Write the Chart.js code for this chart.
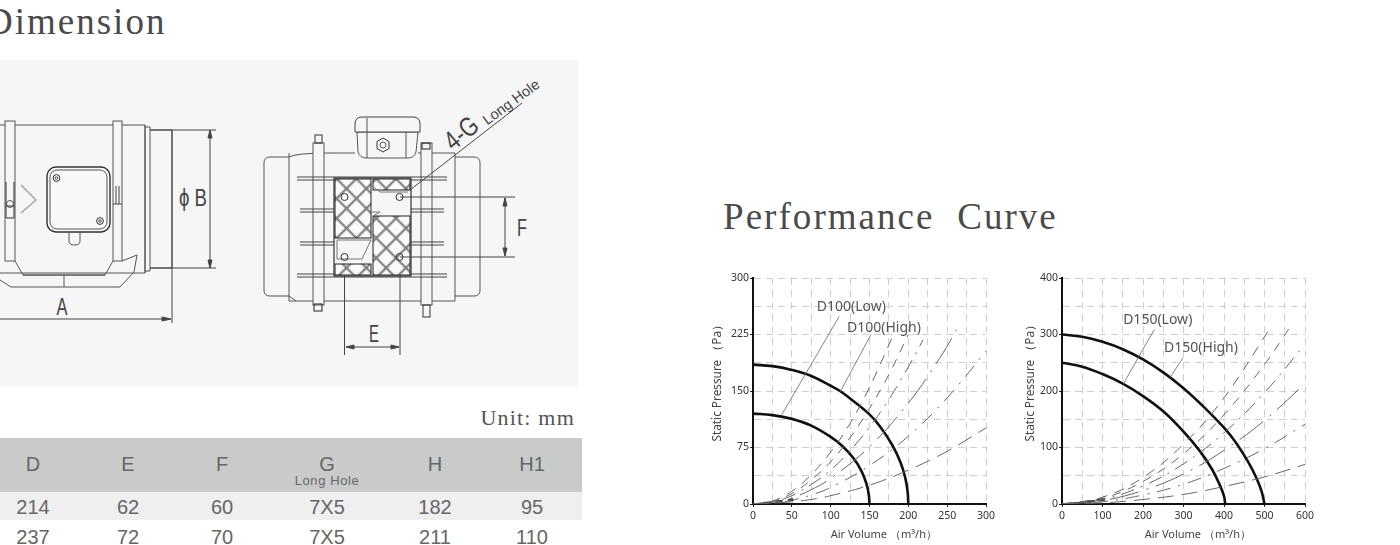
<!DOCTYPE html>
<html>
<head>
<meta charset="utf-8">
<title>Dimension / Performance Curve</title>
<script src="https://cdn.jsdelivr.net/npm/chart.js@4"></script>
<style>
html, body { margin: 0; padding: 0; background: #fff; overflow: hidden; }
#page { position: relative; width: 1400px; height: 545px; overflow: hidden; }
.head { position: absolute; font-family: "Liberation Serif", serif; color: #4a4a4a; font-size: 37px; line-height: 40px; letter-spacing: 2px; white-space: pre; }
.unit { position: absolute; right: 825px; top: 406px; font-family: "Liberation Serif", serif; font-size: 22px; line-height: 24px; letter-spacing: 1.2px; color: #555; }
.band { position: absolute; left: 0; width: 582px; }
.cell { position: absolute; width: 100px; margin-left: -50px; text-align: center; font-family: "Liberation Sans", sans-serif; font-size: 20px; line-height: 24px; color: #666; }
.sub { font-size: 13px; line-height: 14px; letter-spacing: 0.6px; }
svg { position: absolute; left: 0; top: 0; }
canvas { position: absolute; }
</style>
</head>
<body>
<div id="page">
  <div class="head" style="left:-14px;top:2px">Dimension</div>
  <div class="head" style="left:723px;top:197px;letter-spacing:2.05px">Performance  Curve</div>

  <svg width="600" height="400" viewBox="0 0 600 400" fill="none" stroke="#555" stroke-width="1">
    <defs>
      <pattern id="mesh" width="14" height="14" patternUnits="userSpaceOnUse" patternTransform="rotate(45)">
        <rect width="14" height="14" fill="#fafafa"></rect>
        <path d="M0 0H14M0 0V14" stroke="#333" stroke-width="2.6"></path>
        <path d="M0 0H14M0 0V14" stroke="#ddd" stroke-width="0.8"></path>
      </pattern>
    </defs>
    <rect x="0" y="60" width="578" height="326" fill="#f6f6f6" stroke="none"></rect>

    <!-- side view -->
    <path d="M0 125H145V273H0M145 125V273M150 127V271M145 127H150M145 271H150M150 130H172V268H150"></path>
    <rect x="5" y="121" width="10" height="140" fill="#f6f6f6"></rect>
    <rect x="113" y="121" width="9" height="140" fill="#f6f6f6"></rect>
    <rect x="47" y="167" width="63" height="65" rx="9" fill="#f8f8f8" stroke="#333" stroke-width="1.4"></rect>
    <rect x="50" y="170" width="57" height="59" rx="7"></rect>
    <circle cx="56.5" cy="178" r="3.4" stroke="#333"></circle><circle cx="56.5" cy="178" r="1.3"></circle>
    <circle cx="100" cy="221" r="3.4" stroke="#333"></circle><circle cx="100" cy="221" r="1.3"></circle>
    <path d="M69 232V241Q69 245 74.5 245Q80 245 80 241V232"></path>
    <path d="M21 185L36 200L21 213" stroke="#999" stroke-width="1.2"></path>
    <path d="M6 182V218H14V182M6 206H14" stroke="#333"></path>
    <circle cx="10" cy="204" r="3.5"></circle>
    <path d="M116 186V204M119 186V204M113 204H122" stroke="#444"></path>
    <path d="M15 261L23 275H105L113 261M122 261L137 255L134 272L120 287H11L0 280M23 275H105M64 275V287"></path>
    <path d="M172 130V323M150 130H216M150 268H216M0 319H170" stroke="#444"></path>
    <path d="M210 130V268" stroke="#444"></path>
    <path d="M210 130L208 138H212ZM210 268L208 260H212ZM171 319L162 317V321Z" fill="#444" stroke="#444"></path>

    <!-- front view -->
    <path d="M289 157H270Q264 157 264 163V290Q264 296 270 296H289M455 157H474Q480 157 480 163V290Q480 296 474 296H455"></path>
    <path d="M289 153V301H455V153H418M355 153H330Q296 153 289 157M289 296L296 301"></path>
    <path d="M357 132H418L416 152Q414 158 408 158H366Q360 158 358 152Z" fill="#f6f6f6"></path>
    <path d="M355 132V124Q355 117 362 117H413Q420 117 420 124V132Z" fill="#f6f6f6" stroke="#444"></path>
    <path d="M367 118V158M406 132V158" stroke="#555"></path>
    <path d="M383 138L389 141.500V148.500L383 152L377 148.500V141.500Z" stroke="#333"></path><circle cx="383" cy="145" r="3"></circle>
    <rect x="313" y="143" width="11" height="162" fill="#f6f6f6"></rect>
    <rect x="421" y="143" width="11" height="162" fill="#f6f6f6"></rect>
    <rect x="315" y="135" width="7" height="8" stroke="#333"></rect>
    <rect x="314" y="304" width="8" height="7" stroke="#222"></rect>
    <rect x="422" y="143" width="8" height="6" stroke="#222"></rect>
    <rect x="423" y="305" width="7" height="12" stroke="#333"></rect>
    <path d="M297 177H447M297 180H447M300 209H444M300 212H444M300 242H444M300 245H444M297 274H447M297 277H447" stroke="#444"></path>
    <rect x="334" y="178" width="77" height="98" fill="#f6f6f6" stroke="#333" stroke-width="1.2"></rect>
    <rect x="335" y="179" width="36" height="59" fill="url(#mesh)" stroke="#222"></rect>
    <rect x="373" y="216" width="37" height="59" fill="url(#mesh)" stroke="#222"></rect>
    <rect x="373" y="179" width="37" height="11" fill="url(#mesh)" stroke="#222"></rect>
    <rect x="335" y="264" width="36" height="11" fill="url(#mesh)" stroke="#222"></rect>
    <path d="M372 186L380 192H408M372 212L380 212L373 216M337 240H371L362 259H337Z" stroke="#777"></path>
    <circle cx="399.500" cy="197" r="3.500" stroke="#333"></circle><circle cx="344.500" cy="197" r="3.500" stroke="#333"></circle>
    <circle cx="344.500" cy="257" r="3.500" stroke="#333"></circle><circle cx="399.500" cy="257" r="3.500" stroke="#333"></circle>
    <path d="M410 190L522 103M400 197H515M400 257H515M344.500 275V355M400 275V355M346 347H399M505 198V256" stroke="#444"></path>
    <path d="M505 198L503 206H507ZM505 256L503 248H507ZM346 347L354 345V349ZM399 347L391 345V349Z" fill="#444" stroke="#444"></path>

    <g fill="#444" stroke="none" font-family="Liberation Sans, sans-serif">
      <text x="62" y="315" font-size="24" text-anchor="middle" textLength="11" lengthAdjust="spacingAndGlyphs">A</text>
      <text x="193" y="206" font-size="24" text-anchor="middle" textLength="28" lengthAdjust="spacingAndGlyphs">ϕ B</text>
      <text x="374" y="342" font-size="24" text-anchor="middle" textLength="10" lengthAdjust="spacingAndGlyphs">E</text>
      <text x="522" y="236" font-size="24" text-anchor="middle" textLength="10" lengthAdjust="spacingAndGlyphs">F</text>
      <text transform="translate(467 140) rotate(-40)" font-size="27" text-anchor="middle" textLength="36" lengthAdjust="spacingAndGlyphs">4-G</text>
      <text transform="translate(514 106) rotate(-36)" font-size="14.5" text-anchor="middle">Long Hole</text>
    </g>
  </svg>

  <div class="unit">Unit: mm</div>
  <div class="band" style="top:438px;height:54px;background:#c9cbca"></div>
  <div class="band" style="top:492px;height:28px;background:#efefef"></div>
  <div id="specs"></div>

  <canvas id="d100" width="310" height="280" style="left:700px;top:265px"></canvas>
  <canvas id="d150" width="310" height="280" style="left:1015px;top:265px"></canvas>
</div>

<script>
// table under the drawing
const specHeads = ['D', 'E', 'F', 'G', 'H', 'H1'];
const specRow1  = ['214', '62', '60', '7X5', '182', '95'];
const specRow2  = ['237', '72', '70', '7X5', '211', '110'];
const specX     = [33, 128, 222, 327, 435, 532];

const specs = document.getElementById('specs');
function addCell(text, left, top, cls) {
  const el = document.createElement('div');
  el.className = 'cell ' + (cls || '');
  el.style.left = left + 'px';
  el.style.top = top + 'px';
  el.textContent = text;
  specs.appendChild(el);
}
specHeads.forEach((h, i) => addCell(h, specX[i], 452));
specRow1.forEach((v, i) => addCell(v, specX[i], 495));
specRow2.forEach((v, i) => addCell(v, specX[i], 525));
addCell('Long Hole', specX[3], 474, 'sub');

// D100
const d100LowX   = [0, 25, 50, 75, 100, 115, 130, 140, 146, 149, 150];
const d100LowY   = [120, 118, 113, 104, 89, 77, 60, 43, 27, 13, 0];
const d100HighX  = [0, 25, 50, 75, 100, 112, 125, 150, 165, 180, 190, 196, 199, 200];
const d100HighY  = [185, 183, 178, 170, 157, 150, 140, 119, 101, 77, 55, 35, 17, 0];
const d100SysX   = [
  [0, 25, 50, 75, 100, 125, 150, 181],
  [0, 25, 50, 75, 100, 125, 150, 175, 200],
  [0, 25, 50, 75, 100, 125, 150, 175, 200, 219],
  [0, 25, 50, 75, 100, 150, 200, 240, 266],
  [0, 25, 50, 75, 100, 150, 200, 250, 300],
  [0, 25, 50, 75, 100, 150, 200, 250, 300]
];
const d100SysY   = [
  [0, 4, 17, 39, 69, 107, 155, 225],
  [0, 3.5, 14, 32, 56, 88, 127, 172, 225],
  [0, 3, 11, 26, 45, 71, 102, 139, 182, 218],
  [0, 2, 8, 19, 34, 76, 134, 193, 238],
  [0, 1, 5, 12, 22, 51, 90, 141, 203],
  [0, 1, 3, 6, 11, 25, 45, 70, 101]
];
// dark wedges where the system curves bunch up at the origin
const d100KnotX  = [[13, 25], [29, 38], [45, 52]];
const d100KnotY  = [[1, 2], [3, 4], [5, 6]];
const d100Xticks = [0, 50, 100, 150, 200, 250, 300];
const d100Yticks = [0, 75, 150, 225, 300];

// D150
const d150LowX   = [0, 50, 100, 150, 200, 250, 300, 340, 370, 390, 400, 403];
const d150LowY   = [250, 243, 230, 213, 191, 164, 128, 94, 62, 33, 14, 0];
const d150HighX  = [0, 50, 100, 150, 200, 250, 300, 350, 400, 430, 460, 480, 493, 500];
const d150HighY  = [300, 296, 287, 274, 256, 233, 205, 172, 135, 108, 74, 46, 22, 0];
const d150SysX   = [
  [0, 100, 200, 300, 400, 518],
  [0, 100, 200, 300, 400, 500, 563],
  [0, 100, 200, 300, 400, 500, 592],
  [0, 100, 200, 300, 400, 500, 600],
  [0, 100, 200, 300, 400, 500, 600],
  [0, 100, 200, 300, 400, 500, 600]
];
const d150SysY   = [
  [0, 12, 47, 106, 188, 316],
  [0, 10, 40, 89, 158, 247, 313],
  [0, 8, 32, 71, 126, 197, 276],
  [0, 6, 24, 53, 95, 148, 213],
  [0, 4, 16, 35, 63, 98, 141],
  [0, 2, 8, 17, 31, 48, 70]
];
const d150KnotX  = [[26, 51], [59, 81], [86, 106]];
const d150KnotY  = [[1, 2], [4, 5], [7, 8]];
const d150Xticks = [0, 100, 200, 300, 400, 500, 600];
const d150Yticks = [0, 100, 200, 300, 400];

// dash styles of the six system curves, steepest first
const sysDash = [[10, 8], [9, 8], [14, 7, 2, 7], [30, 8, 2, 8], [14, 8, 2, 8], [16, 8]];

function pairs(xs, ys) {
  return xs.map((x, i) => ({ x: x, y: ys[i] }));
}

// the D100(Low) style names sit in the plot, written through the scales
const curveNames = {
  id: 'curveNames',
  afterDatasetsDraw(chart, args, opts) {
    const ctx = chart.ctx;
    ctx.save();
    ctx.font = '14px "Noto Sans"';
    ctx.fillStyle = '#555';
    ctx.textBaseline = 'middle';
    opts.items.forEach(it => {
      ctx.fillText(it.text, chart.scales.x.getPixelForValue(it.x), chart.scales.y.getPixelForValue(it.y));
    });
    ctx.restore();
  }
};

function drawCurve(id, cfg) {
  const datasets = [];
  cfg.sysX.forEach((xs, i) => {
    datasets.push({ data: pairs(xs, cfg.sysY[i]), borderColor: '#666', borderWidth: 1, borderDash: sysDash[i], tension: 0.4, pointRadius: 0 });
  });
  cfg.knotX.forEach((xs, i) => {
    datasets.push({ data: pairs(xs, cfg.knotY[i]), borderColor: '#333', borderWidth: 2.4, pointRadius: 0 });
  });
  cfg.leaders.forEach(l => {
    datasets.push({ data: pairs(l[0], l[1]), borderColor: '#666', borderWidth: 0.8, pointRadius: 0 });
  });
  datasets.push({ data: pairs(cfg.lowX, cfg.lowY), borderColor: '#111', borderWidth: 2.6, tension: 0.4, pointRadius: 0 });
  datasets.push({ data: pairs(cfg.highX, cfg.highY), borderColor: '#111', borderWidth: 2.6, tension: 0.4, pointRadius: 0 });

  const tickFont = { family: '"Noto Sans"', size: 10.5 };
  new Chart(document.getElementById(id), {
    type: 'line',
    data: { datasets: datasets },
    plugins: [curveNames],
    options: {
      responsive: false,
      animation: false,
      layout: { padding: { top: 13, right: cfg.right } },
      plugins: { legend: { display: false }, tooltip: { enabled: false }, curveNames: { items: cfg.names } },
      scales: {
        x: {
          type: 'linear', min: 0, max: cfg.xTicks[cfg.xTicks.length - 1],
          afterFit(s) { s.height = 41; },
          grid: { color: '#cfcfcf', lineWidth: 1, tickColor: c => cfg.xTicks.includes(c.tick.value) ? '#222' : 'transparent', tickLength: 3 },
          border: { color: '#111', width: 2, dash: [7, 5] },
          ticks: { stepSize: cfg.xStep, autoSkip: false, maxRotation: 0, padding: 3, color: '#333', font: tickFont,
            callback: v => cfg.xTicks.includes(v) ? String(v) : '' },
          // leading spaces: the printed title sits right of the plot's centre
          title: { display: true, text: '          Air Volume （m³/h）', color: '#444', font: { family: '"Noto Sans"', size: 11 }, padding: { top: 0, bottom: 4 } }
        },
        y: {
          type: 'linear', min: 0, max: cfg.yTicks[cfg.yTicks.length - 1],
          afterFit(s) { s.width = cfg.left; },
          grid: { color: '#cfcfcf', lineWidth: 1, tickColor: c => cfg.yTicks.includes(c.tick.value) ? '#222' : 'transparent', tickLength: 3 },
          border: { color: '#111', width: 2, dash: [7, 5] },
          ticks: { stepSize: cfg.yStep, autoSkip: false, padding: 1, color: '#333', font: tickFont,
            callback: v => cfg.yTicks.includes(v) ? String(v) : '' },
          title: { display: true, text: '       Static Pressure （Pa）', color: '#444', font: { family: '"Noto Sans"', size: 11.8 }, padding: { top: cfg.titleGap, bottom: 0 } }
        }
      }
    }
  });
}

drawCurve('d100', {
  lowX: d100LowX, lowY: d100LowY, highX: d100HighX, highY: d100HighY,
  sysX: d100SysX, sysY: d100SysY, knotX: d100KnotX, knotY: d100KnotY,
  xTicks: d100Xticks, yTicks: d100Yticks,
  xStep: 25, yStep: 37.5, left: 53, right: 24, titleGap: 11,
  leaders: [[[37, 111], [118.6, 249]], [[112, 152], [148.6, 225]]],
  names: [{ text: 'D100(Low)', x: 82, y: 261.5 }, { text: 'D100(High)', x: 121, y: 233.6 }]
});
drawCurve('d150', {
  lowX: d150LowX, lowY: d150LowY, highX: d150HighX, highY: d150HighY,
  sysX: d150SysX, sysY: d150SysY, knotX: d150KnotX, knotY: d150KnotY,
  xTicks: d150Xticks, yTicks: d150Yticks,
  xStep: 50, yStep: 50, left: 47, right: 20, titleGap: 9,
  leaders: [[[151, 228], [212, 309]], [[266, 299], [223, 259]]],
  names: [{ text: 'D150(Low)', x: 151, y: 325 }, { text: 'D150(High)', x: 252, y: 276 }]
});
</script>
</body>
</html>
